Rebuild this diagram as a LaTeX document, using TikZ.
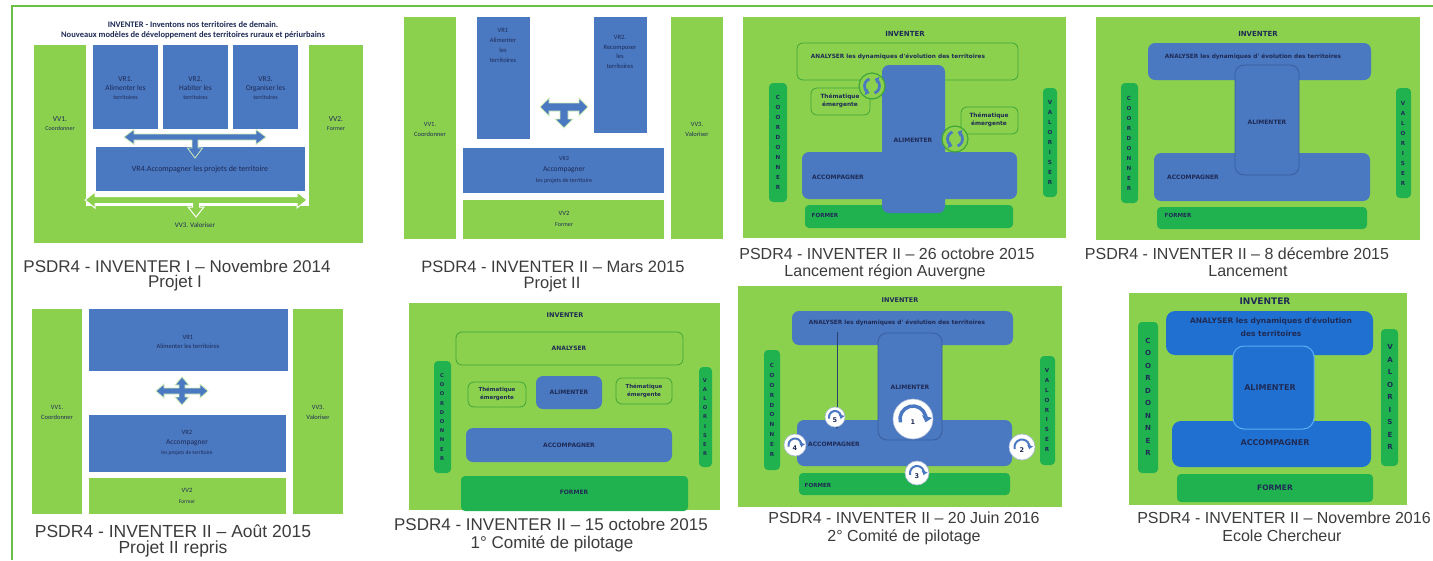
\documentclass[tikz,border=0pt]{standalone}
\usepackage{fontspec}
\setmainfont{Liberation Sans}
\newfontfamily\calfont{Carlito}
\newfontfamily\comreg{DejaVu Sans}
\newcommand\comfont{\comreg\bfseries}
\usetikzlibrary{fit,arrows.meta}
\definecolor{lg}{HTML}{8CD14E}
\definecolor{dg}{HTML}{1FB24E}
\definecolor{bl}{HTML}{4A78C1}
\definecolor{blo}{HTML}{3A5E9E}
\definecolor{bleight}{HTML}{2070D2}
\definecolor{bleighto}{HTML}{5AAEF2}
\definecolor{gline}{HTML}{3FA63A}
\definecolor{txt}{HTML}{1F2B55}
\definecolor{capc}{HTML}{3C3C3C}
\definecolor{framec}{HTML}{6CBF45}
\definecolor{numo}{HTML}{A8B8D8}
\newcommand\myfs[2]{\fontsize{#1}{#2}\selectfont}
\newcommand\bx[6]{\node[#2, fit={(#3,#4) (#5,#6)}, inner sep=0pt, outer sep=0pt] (#1) {};}
\newcommand\coordtxt{C\\O\\O\\R\\D\\O\\N\\N\\E\\R}
\newcommand\valtxt{V\\A\\L\\O\\R\\I\\S\\E\\R}
\newcommand\tblockarrow[8]{\begin{scope}[shift={(#1,#2)}]
\path[#8] ({-#3},0) -- ({-#3+#6},{-#5}) -- ({-#3+#6},{-#4}) -- ({#3-#6},{-#4}) -- ({#3-#6},{-#5}) -- (#3,0) -- ({#3-#6},#5) -- ({#3-#6},#4) -- (#4,#4) -- (#4,{#7-#6}) -- (#5,{#7-#6}) -- (0,#7) -- ({-#5},{#7-#6}) -- ({-#4},{#7-#6}) -- ({-#4},#4) -- ({-#3+#6},#4) -- ({-#3+#6},#5) -- cycle;
\end{scope}}
\newcommand\fourarrow[7]{\begin{scope}[shift={(#1,#2)}]
\path[arrb] ({-#3},0) -- ({-#3+#7},{-#6}) -- ({-#3+#7},{-#5}) -- ({-#5},{-#5}) -- ({-#5},{-#4+#7}) -- ({-#6},{-#4+#7}) -- (0,{-#4}) -- (#6,{-#4+#7}) -- (#5,{-#4+#7}) -- (#5,{-#5}) -- ({#3-#7},{-#5}) -- ({#3-#7},{-#6}) -- (#3,0) -- ({#3-#7},#6) -- ({#3-#7},#5) -- (#5,#5) -- (#5,{#4-#7}) -- (#6,{#4-#7}) -- (0,#4) -- ({-#6},{#4-#7}) -- ({-#5},{#4-#7}) -- ({-#5},#5) -- ({-#3+#7},#5) -- ({-#3+#7},#6) -- cycle;
\end{scope}}
\newcommand\cycicon[3]{\node[cycc] (#1) at (#2,#3) {};
\draw[cyca] ([shift={(110:7.5pt)}]#1.center) arc[start angle=110, end angle=250, radius=7.5pt];
\draw[cyca] ([shift={(290:7.5pt)}]#1.center) arc[start angle=290, end angle=430, radius=7.5pt];}
\newcommand\numcirc[6]{\node[numc, minimum size=#3pt] (#1) at (#2) {};
\draw[#5] ([shift={(195:#4pt)}]#1.center) arc[start angle=195, end angle=-15, radius=#4pt];
\node[numt] (#1n) at ([yshift=-3pt]#1.center) {#6};}
\tikzset{
 sgreen/.style={fill=lg},
 sblue/.style={fill=bl},
 gout/.style={fill=lg, draw=gline, line width=0.8pt, rounded corners=6pt},
 rb/.style={fill=bl, rounded corners=7pt},
 rbo/.style={fill=bl, draw=blo, line width=0.8pt, rounded corners=9pt},
 rdg/.style={fill=dg, rounded corners=4pt},
 rbe/.style={fill=bleight, rounded corners=9pt},
 rbeo/.style={fill=bleight, draw=bleighto, line width=1pt, rounded corners=11pt},
 arrb/.style={fill=bl, draw=white!60!lg, line width=0.8pt},
 arrg/.style={fill=lg, draw=white, line width=1pt},
 lab/.style={text=txt, align=center, inner sep=0pt},
 clab/.style={lab, font=\calfont\myfs{7.5}{9}},
 dlab/.style={lab, font=\comfont\myfs{7}{9}},
 capt/.style={text=capc, anchor=base, inner sep=0pt},
 cycc/.style={circle, fill=lg, draw=gline, line width=1.2pt, minimum size=26pt, inner sep=0pt},
 cyca/.style={draw=bl, line width=2.8pt, -{Triangle[length=4pt,width=7pt]}},
 numc/.style={circle, fill=white, draw=numo, line width=0.6pt, inner sep=0pt},
 numbig/.style={draw=bl, line width=3.5pt, -{Triangle[length=6pt,width=10pt]}},
 numsm/.style={draw=bl, line width=2pt, -{Triangle[length=3.5pt,width=6pt]}},
 numt/.style={font=\comfont\myfs{6.5}{7}, text=txt, inner sep=0pt},
}
\begin{document}
\begin{tikzpicture}[x=1pt,y=-1pt]
\useasboundingbox (0,0) rectangle (1433,560);
\fill[white] (0,0) rectangle (1433,560);
% frame
\coordinate (fa) at (12,560); \coordinate (fb) at (12,6); \coordinate (fc) at (1433,6);
\draw[framec, line width=1.5pt] (fa) -- (fb) -- (fc);

% ===== Panel 1
\bx{p1vv1}{sgreen}{34}{45}{86}{206}
\bx{p1vv2}{sgreen}{309}{45}{363}{206}
\bx{p1vv3}{sgreen}{34}{206}{363}{243}
\bx{p1vr1}{sblue}{93}{45}{158}{129}
\bx{p1vr2}{sblue}{163}{45}{228}{129}
\bx{p1vr3}{sblue}{233}{45}{298}{129}
\bx{p1vr4}{sblue}{96}{147}{305}{191}
\tblockarrow{195}{137}{71}{3}{7.5}{10}{21}{arrb}
\tblockarrow{196}{200}{111}{3.5}{8}{10}{17}{arrg}
\node[lab, font=\calfont\bfseries\myfs{8.5}{9.5}] (p1title) at (193,30) {INVENTER - Inventons nos territoires de demain.\\Nouveaux modèles de développement des territoires ruraux et périurbains};
\node[clab] (p1vr1t) at (125.5,88) {VR1.\\Alimenter les\\{\myfs{6}{8}territoires}};
\node[clab] (p1vr2t) at (195.5,88) {VR2.\\Habiter les\\{\myfs{6}{8}territoires}};
\node[clab] (p1vr3t) at (265.5,88) {VR3.\\Organiser les\\{\myfs{6}{8}territoires}};
\node[clab] (p1vv1t) at (60,124) {VV1.\\{\myfs{6}{8}Coordonner}};
\node[clab] (p1vv2t) at (336,124) {VV2.\\{\myfs{6}{8}Former}};
\node[clab, font=\calfont\myfs{8}{9}] (p1vr4t) at (200,169) {VR4.Accompagner les projets de territoire};
\node[clab, font=\calfont\myfs{7}{9}] (p1vv3t) at (195,225) {VV3. Valoriser};
\node[capt, font=\myfs{17}{17}] (cap1a) at (177,272) {PSDR4 - INVENTER I – Novembre 2014};
\node[capt, font=\myfs{17}{17}] (cap1b) at (175,287) {Projet I};

% ===== Panel 2
\bx{p2vv1}{sgreen}{404}{17}{456}{239}
\bx{p2vr1}{sblue}{477}{17}{530}{139}
\bx{p2vr2}{sblue}{594}{17}{647}{133}
\bx{p2vv3}{sgreen}{671}{17}{723}{239}
\bx{p2vr3}{sblue}{463}{148}{664}{193}
\bx{p2vv2}{sgreen}{463}{200}{664}{239}
\tblockarrow{564}{107}{24}{4}{9}{9}{21}{arrb}
\node[clab, font=\calfont\myfs{6.5}{10}] (p2vr1t) at (503,45) {VR1\\Alimenter\\les\\territoires};
\node[clab, font=\calfont\myfs{6.5}{9.5}] (p2vr2t) at (620,52) {VR2.\\Recomposer\\les\\territoires};
\node[clab, font=\calfont\myfs{6.5}{10}] (p2vv1t) at (430,129) {VV1.\\Coordonner};
\node[clab, font=\calfont\myfs{6.5}{10}] (p2vv3t) at (697,129) {VV3.\\Valoriser};
\node[clab, font=\calfont\myfs{6}{11}] (p2vr3t) at (564,170) {VR3\\{\myfs{7.5}{9}Accompagner}\\les projets de territoire};
\node[clab, font=\calfont\myfs{6.5}{11}] (p2vv2t) at (564,219) {VV2\\{\myfs{6}{8}Former}};
\node[capt, font=\myfs{16.5}{17}] (cap2a) at (553,272) {PSDR4 - INVENTER II – Mars 2015};
\node[capt, font=\myfs{16.5}{17}] (cap2b) at (552,288) {Projet II};

% ===== Panel 3
\bx{p3o}{sgreen}{743}{17}{1066}{238}
\bx{p3an}{gout}{797}{43}{1018}{80}
\bx{p3ac}{rb}{802}{152}{1017}{199}
\bx{p3fo}{rdg}{805}{205}{1013}{228}
\bx{p3al}{rb}{882}{65}{945}{213}
\bx{p3co}{rdg}{769}{83}{787}{202}
\bx{p3va}{rdg}{1043}{88}{1057}{197}
\bx{p3t1}{gout}{811}{88}{870}{115}
\bx{p3t2}{gout}{961}{107}{1018}{134}
\cycicon{p3c1}{872}{86}
\cycicon{p3c2}{955}{139}
\node[dlab, font=\comfont\myfs{7}{9}] (p3inv) at (905,34) {INVENTER};
\node[dlab, font=\comfont\myfs{5.8}{8}] (p3ant) at (898,57) {ANALYSER les dynamiques d'évolution des territoires};
\node[dlab, font=\comfont\myfs{6}{8}] (p3alt) at (913,140) {ALIMENTER};
\node[dlab, font=\comfont\myfs{6}{8}] (p3act) at (838,177) {ACCOMPAGNER};
\node[dlab, font=\comfont\myfs{5.6}{8}] (p3fot) at (825,215) {FORMER};
\node[dlab, font=\comfont\myfs{5.8}{8}] (p3t1t) at (840,101) {Thématique\\émergente};
\node[dlab, font=\comfont\myfs{5.8}{8}] (p3t2t) at (989,120) {Thématique\\émergente};
\node[dlab, font=\comfont\myfs{5.6}{10}] (p3cot) at (778,142) {\coordtxt};
\node[dlab, font=\comfont\myfs{5.6}{10}] (p3vat) at (1050,142) {\valtxt};
\node[capt, font=\myfs{16}{17}] (cap3a) at (887,259) {PSDR4 - INVENTER II – 26 octobre 2015};
\node[capt, font=\myfs{16}{17}] (cap3b) at (885,276) {Lancement région Auvergne};

% ===== Panel 4
\bx{p4o}{sgreen}{1096}{17}{1420}{240}
\bx{p4an}{rb}{1148}{43}{1371}{80}
\bx{p4ac}{rb}{1154}{153}{1370}{201}
\bx{p4al}{rbo}{1235}{65}{1299}{175}
\bx{p4co}{rdg}{1121}{83}{1138}{203}
\bx{p4va}{rdg}{1396}{88}{1411}{198}
\bx{p4fo}{rdg}{1157}{207}{1367}{229}
\node[dlab, font=\comfont\myfs{7}{9}] (p4inv) at (1258,34) {INVENTER};
\node[dlab, font=\comfont\myfs{5.8}{8}] (p4ant) at (1253,57) {ANALYSER les dynamiques d' évolution des territoires};
\node[dlab, font=\comfont\myfs{6}{8}] (p4alt) at (1267,122) {ALIMENTER};
\node[dlab, font=\comfont\myfs{6}{8}] (p4act) at (1193,177) {ACCOMPAGNER};
\node[dlab, font=\comfont\myfs{5.6}{8}] (p4fot) at (1178,215) {FORMER};
\node[dlab, font=\comfont\myfs{5.6}{10}] (p4cot) at (1129,143) {\coordtxt};
\node[dlab, font=\comfont\myfs{5.6}{10}] (p4vat) at (1403,143) {\valtxt};
\node[capt, font=\myfs{16}{17}] (cap4a) at (1237,259) {PSDR4 - INVENTER II – 8 décembre 2015};
\node[capt, font=\myfs{16}{17}] (cap4b) at (1248,276) {Lancement};

% ===== Panel 5
\bx{p5vv1}{sgreen}{32}{309}{82}{514}
\bx{p5vr1}{sblue}{89}{309}{288}{371}
\bx{p5vr2}{sblue}{89}{415}{286}{472}
\bx{p5vv2}{sgreen}{89}{478}{286}{514}
\bx{p5vv3}{sgreen}{293}{309}{343}{514}
\fourarrow{182}{391}{26}{14}{3}{7}{8}
\node[clab, font=\calfont\myfs{6.5}{9}] (p5vr1t) at (188,342) {VR1\\Alimenter les territoires};
\node[clab, font=\calfont\myfs{6.5}{10}] (p5vv1t) at (57,412) {VV1.\\Coordonner};
\node[clab, font=\calfont\myfs{6.5}{10}] (p5vv3t) at (318,412) {VV3.\\Valoriser};
\node[clab, font=\calfont\myfs{6.5}{10}] (p5vr2t) at (187,443) {VR2\\{\myfs{7.5}{9}Accompagner}\\{\myfs{5.5}{8}les projets de territoire}};
\node[clab, font=\calfont\myfs{6.5}{11}] (p5vv2t) at (187,496) {VV2\\{\myfs{5.5}{8}Former}};
\node[capt, font=\myfs{17.5}{17}] (cap5a) at (173,537) {PSDR4 - INVENTER II – Août 2015};
\node[capt, font=\myfs{17.5}{17}] (cap5b) at (173,553) {Projet II repris};

% ===== Panel 6
\bx{p6o}{sgreen}{409}{303}{720}{510}
\bx{p6an}{gout}{456}{332}{683}{365}
\bx{p6co}{rdg}{434}{361}{451}{473}
\bx{p6va}{rdg}{699}{367}{712}{467}
\bx{p6t1}{gout}{468}{382}{526}{407}
\bx{p6al}{rb}{536}{376}{602}{409}
\bx{p6t2}{gout}{616}{378}{672}{404}
\bx{p6ac}{rb}{466}{428}{672}{462}
\bx{p6fo}{rdg}{461}{476}{688}{511}
\node[dlab, font=\comfont\myfs{6.5}{9}] (p6inv) at (565,315) {INVENTER};
\node[dlab, font=\comfont\myfs{6}{8}] (p6ant) at (569,348) {ANALYSER};
\node[dlab, font=\comfont\myfs{6}{8}] (p6alt) at (569,392) {ALIMENTER};
\node[dlab, font=\comfont\myfs{5.5}{8}] (p6t1t) at (497,394) {Thématique\\émergente};
\node[dlab, font=\comfont\myfs{5.5}{8}] (p6t2t) at (644,391) {Thématique\\émergente};
\node[dlab, font=\comfont\myfs{6}{8}] (p6act) at (569,445) {ACCOMPAGNER};
\node[dlab, font=\comfont\myfs{6}{8}] (p6fot) at (574,492) {FORMER};
\node[dlab, font=\comfont\myfs{5.2}{9.2}] (p6cot) at (442,417) {\coordtxt};
\node[dlab, font=\comfont\myfs{5.2}{9.2}] (p6vat) at (705,417) {\valtxt};
\node[capt, font=\myfs{17}{17}] (cap6a) at (551,530) {PSDR4 - INVENTER II – 15 octobre 2015};
\node[capt, font=\myfs{17}{17}] (cap6b) at (552,548) {1° Comité de pilotage};

% ===== Panel 7
\bx{p7o}{sgreen}{738}{286}{1062}{507}
\bx{p7an}{rb}{792}{311}{1013}{345}
\bx{p7ac}{rb}{797}{420}{1012}{466}
\bx{p7al}{rbo}{878}{333}{942}{440}
\bx{p7co}{rdg}{764}{350}{780}{470}
\bx{p7va}{rdg}{1040}{356}{1055}{465}
\bx{p7fo}{rdg}{799}{473}{1010}{495}
\coordinate (p7la) at (837,332);
\coordinate (p7lb) at (837,429);
\draw[draw=blo!70!black, line width=0.6pt, -{Stealth[length=4pt,width=3.5pt]}] (p7la) -- (p7lb);
\numcirc{p7c1}{913,419}{40}{13}{numbig}{1}
\numcirc{p7c5}{835,417}{20}{6}{numsm}{5}
\numcirc{p7c4}{795,445}{22}{6.5}{numsm}{4}
\numcirc{p7c2}{1022,447}{26}{7.5}{numsm}{2}
\numcirc{p7c3}{917,473}{24}{7}{numsm}{3}
\node[dlab, font=\comfont\myfs{6.5}{9}] (p7inv) at (900,300) {INVENTER};
\node[dlab, font=\comfont\myfs{5.8}{8}] (p7ant) at (897,323) {ANALYSER les dynamiques d' évolution des territoires};
\node[dlab, font=\comfont\myfs{6}{8}] (p7alt) at (910,387) {ALIMENTER};
\node[dlab, font=\comfont\myfs{6}{8}] (p7act) at (834,444) {ACCOMPAGNER};
\node[dlab, font=\comfont\myfs{5.6}{8}] (p7fot) at (818,485) {FORMER};
\node[dlab, font=\comfont\myfs{5.6}{9.8}] (p7cot) at (772,410) {\coordtxt};
\node[dlab, font=\comfont\myfs{5.6}{9.8}] (p7vat) at (1047,410) {\valtxt};
\node[capt, font=\myfs{16}{17}] (cap7a) at (904,523) {PSDR4 - INVENTER II – 20 Juin 2016};
\node[capt, font=\myfs{16}{17}] (cap7b) at (904,541) {2° Comité de pilotage};

% ===== Panel 8
\bx{p8o}{sgreen}{1129}{293}{1407}{505}
\bx{p8an}{rbe}{1166}{311}{1373}{355}
\bx{p8ac}{rbe}{1172}{421}{1371}{467}
\bx{p8al}{rbeo}{1233}{346}{1314}{429}
\bx{p8co}{rdg}{1138}{322}{1158}{473}
\bx{p8va}{rdg}{1381}{329}{1398}{466}
\bx{p8fo}{rdg}{1177}{474}{1373}{502}
\node[dlab, font=\comfont\myfs{9}{10}] (p8inv) at (1265,301) {INVENTER};
\node[dlab, font=\comfont\myfs{7.5}{13}] (p8ant) at (1271,327) {ANALYSER les dynamiques d'évolution\\des territoires};
\node[dlab, font=\comfont\myfs{8}{9}] (p8alt) at (1270,388) {ALIMENTER};
\node[dlab, font=\comfont\myfs{8}{9}] (p8act) at (1275,443) {ACCOMPAGNER};
\node[dlab, font=\comfont\myfs{7.5}{9}] (p8fot) at (1275,488) {FORMER};
\node[dlab, font=\comfont\myfs{7}{12.5}] (p8cot) at (1148,397) {\coordtxt};
\node[dlab, font=\comfont\myfs{7}{12.5}] (p8vat) at (1390,397) {\valtxt};
\node[capt, font=\myfs{16}{17}] (cap8a) at (1284,523) {PSDR4 - INVENTER II – Novembre 2016};
\node[capt, font=\myfs{16}{17}] (cap8b) at (1282,541) {Ecole Chercheur};
\end{tikzpicture}
\end{document}
